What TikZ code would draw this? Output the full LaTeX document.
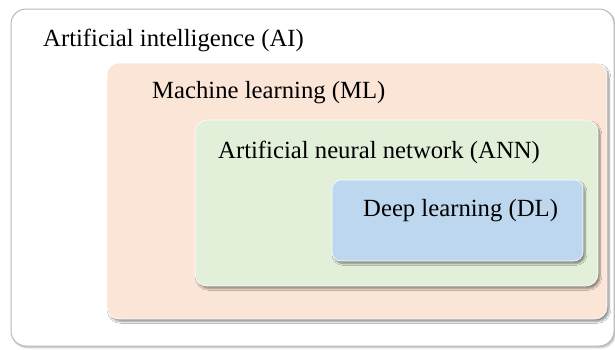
\documentclass[tikz,border=0pt]{standalone}
\usepackage{fontspec}
\setmainfont{Liberation Serif}
\usetikzlibrary{shadows.blur}
\definecolor{mlpeach}{HTML}{FBE5D6}
\definecolor{anngreen}{HTML}{E2EFD9}
\definecolor{dlblue}{HTML}{BDD7EE}
\tikzset{
  layer/.style={rounded corners=12pt, draw=white, line width=.6pt,
    blur shadow={shadow xshift=2pt, shadow yshift=-2.5pt, shadow blur steps=6, shadow opacity=45}},
  lbl/.style={anchor=base west, inner sep=0pt, font=\fontsize{24.7}{28}\selectfont}
}
\begin{document}
\begin{tikzpicture}[x=1pt,y=-1pt]
  \useasboundingbox (0,0) rectangle (615,349);
  % outer frame
  \draw [rounded corners=15pt, draw=gray!55, line width=1pt, fill=white,
    blur shadow={shadow xshift=1.5pt, shadow yshift=-1.5pt, shadow blur steps=4, shadow opacity=30}]
    (11,9) rectangle (614,346);
  \node [lbl] (ai) at (43,46) {Artificial intelligence (AI)};
  % nested layers
  \path [layer, fill=mlpeach] (107,63) rectangle (607,319);
  \node [lbl] (ml) at (152,98) {Machine learning (ML)};
  \path [layer, fill=anngreen] (195,120) rectangle (598,286);
  \node [lbl] (ann) at (218,158) {Artificial neural network (ANN)};
  \path [layer, fill=dlblue, rounded corners=9pt] (332,180) rectangle (583,261);
  \node [lbl] (dl) at (363,216) {Deep learning (DL)};
\end{tikzpicture}
\end{document}
